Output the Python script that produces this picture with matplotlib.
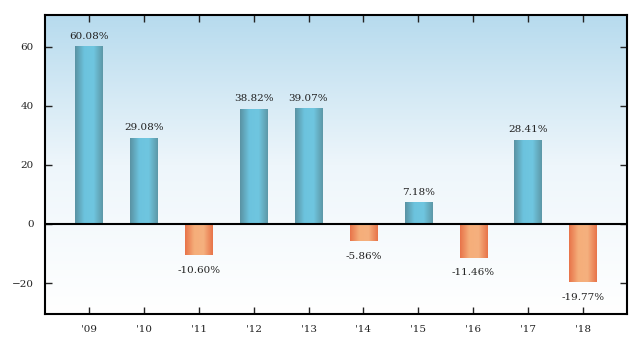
import numpy as np
import matplotlib
matplotlib.use("Agg")
import matplotlib.pyplot as plt
from matplotlib.colors import LinearSegmentedColormap

years = ["'09", "'10", "'11", "'12", "'13", "'14", "'15", "'16", "'17", "'18"]
returns = [60.08, 29.08, -10.60, 38.82, 39.07, -5.86, 7.18, -11.46, 28.41, -19.77]

plt.rcParams['font.family'] = 'DejaVu Serif'
plt.rcParams['font.size'] = 7.5

fig = plt.figure(figsize=(6.41, 3.47), dpi=100)
ax = fig.add_axes([45 / 641, 33 / 347, 582 / 641, 299 / 347])

x = np.arange(len(years))
xlo, xhi = -0.8, 9.8
ylo, yhi = -30.5, 70.8

# background gradient, light blue on top fading to white
bg = LinearSegmentedColormap.from_list('bg', ['#ffffff', '#eef6fb', '#b7dbee'])
grad = np.linspace(0, 1, 256).reshape(-1, 1)
ax.imshow(grad, cmap=bg, origin='lower', aspect='auto',
          extent=[xlo, xhi, ylo, yhi], zorder=0)

# cylinder-ish shading across each bar
blue = LinearSegmentedColormap.from_list('b', ['#5a93a3', '#6cc3de', '#6fc6e0', '#5d98a8'])
orange = LinearSegmentedColormap.from_list('o', ['#e8744a', '#f5ae7a', '#f5b07e', '#e8744a'])
row = np.linspace(0, 1, 64).reshape(1, -1)
w = 0.5
for xi, v in zip(x, returns):
    cm = blue if v >= 0 else orange
    ax.imshow(row, cmap=cm, aspect='auto',
              extent=[xi - w / 2, xi + w / 2, 0, v] if v >= 0 else [xi - w / 2, xi + w / 2, v, 0],
              zorder=2)
    if v >= 0:
        ax.text(xi, v + 2.0, '%.2f%%' % v, ha='center', va='bottom', color='#222222')
    else:
        ax.text(xi, v - 3.6, '%.2f%%' % v, ha='center', va='top', color='#222222')

ax.axhline(0, color='black', lw=1.5, zorder=3)
ax.set_xlim(xlo, xhi)
ax.set_ylim(ylo, yhi)
ax.set_xticks(x)
ax.set_xticklabels(years)
ax.set_yticks([-20, 0, 20, 40, 60])
ax.tick_params(direction='in', top=True, right=True, length=5, width=1, colors='#222222')
ax.tick_params(axis='both', labelcolor='#222222', pad=8)
for s in ax.spines.values():
    s.set_linewidth(1.5)

fig.savefig('out.png', dpi=100)
